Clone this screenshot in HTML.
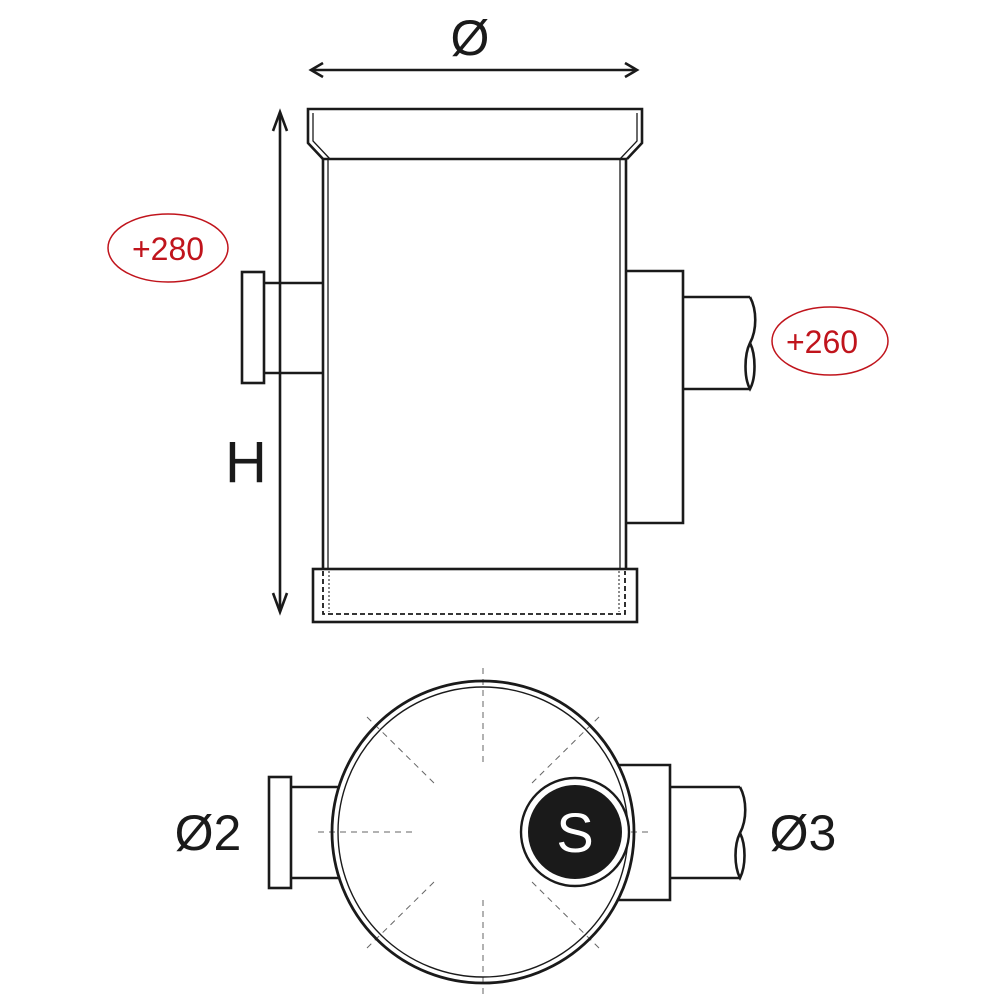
<!DOCTYPE html>
<html><head><style>body{margin:0;background:#fff}svg{display:block}</style></head><body>
<svg width="1000" height="1000" viewBox="0 0 1000 1000" xmlns="http://www.w3.org/2000/svg" fill="none" stroke="#1a1a1a" stroke-width="2.6">
<line x1="311" y1="70" x2="637" y2="70"/>
<polyline points="323,63 311,70 323,77"/>
<polyline points="625,63 637,70 625,77"/>
<text x="470" y="55" font-family="Liberation Sans, sans-serif" font-size="50" fill="#1a1a1a" stroke="none" text-anchor="middle">Ø</text>
<line x1="280" y1="112" x2="280" y2="612"/>
<polyline points="273,131 280,112 287,131"/>
<polyline points="273,593 280,612 287,593"/>
<text x="246" y="482" font-family="Liberation Sans, sans-serif" font-size="58" fill="#1a1a1a" stroke="none" text-anchor="middle">H</text>
<polyline points="323,159 308,143 308,109 642,109 642,143 627,159"/>
<polyline points="313,113 313,141 330,159" stroke-width="1.3"/>
<polyline points="637,113 637,141 620,159" stroke-width="1.3"/>
<line x1="323" y1="159" x2="627" y2="159"/>
<line x1="323" y1="159" x2="323" y2="569"/>
<line x1="328" y1="159" x2="328" y2="569" stroke-width="1.3"/>
<line x1="626" y1="159" x2="626" y2="569"/>
<line x1="620" y1="159" x2="620" y2="569" stroke-width="1.3"/>
<rect x="313" y="569" width="324" height="53"/>
<polyline points="323,571 323,614 625,614 625,571" stroke-dasharray="5,3" stroke-width="1.8"/>
<line x1="329" y1="571" x2="329" y2="612" stroke-dasharray="2,2" stroke-width="1"/>
<line x1="619" y1="571" x2="619" y2="612" stroke-dasharray="2,2" stroke-width="1"/>
<rect x="242" y="272" width="22" height="111"/>
<polyline points="264,283 323,283"/>
<polyline points="264,373 323,373"/>
<polyline points="626,271 683,271 683,523 627,523"/>
<polyline points="683,297 750,297"/>
<polyline points="683,389 750,389"/>
<path d="M750,297 C757,310 757,330 750,343 C744,355 744,378 750,389 C756,378 756,355 750,343"/>
<ellipse cx="168" cy="248" rx="60" ry="34" stroke="#c0141c" stroke-width="1.5"/>
<text x="168" y="260" font-family="Liberation Sans, sans-serif" font-size="32" fill="#c0141c" stroke="none" text-anchor="middle">+280</text>
<ellipse cx="830" cy="341" rx="58" ry="34" stroke="#c0141c" stroke-width="1.5"/>
<text x="822" y="353" font-family="Liberation Sans, sans-serif" font-size="32" fill="#c0141c" stroke="none" text-anchor="middle">+260</text>
<rect x="269" y="777" width="22" height="111"/>
<line x1="291" y1="787" x2="340" y2="787"/>
<line x1="291" y1="878" x2="340" y2="878"/>
<polyline points="618,765 670,765 670,900 618,900"/>
<line x1="670" y1="787" x2="740" y2="787"/>
<line x1="670" y1="878" x2="740" y2="878"/>
<path d="M740,787 C747,800 747,820 740,833 C734,845 734,866 740,878 C746,866 746,845 740,833"/>
<g stroke-dasharray="6,5" stroke-width="1" stroke="#666">
<line x1="483" y1="668" x2="483" y2="765"/>
<line x1="483" y1="900" x2="483" y2="998"/>
<line x1="318" y1="832" x2="415" y2="832"/>
<line x1="620" y1="832" x2="648" y2="832"/>
<line x1="367" y1="717" x2="434" y2="783"/>
<line x1="599" y1="717" x2="532" y2="783"/>
<line x1="367" y1="948" x2="434" y2="882"/>
<line x1="599" y1="948" x2="532" y2="882"/>
</g>
<circle cx="483" cy="832" r="151" stroke-width="2.8"/>
<circle cx="483" cy="832" r="145" stroke-width="1.4"/>
<circle cx="575" cy="832" r="54" fill="#fff" stroke-width="2.4"/>
<circle cx="575" cy="832" r="47" fill="#1a1a1a" stroke="none"/>
<text x="575" y="852" font-family="Liberation Sans, sans-serif" font-size="56" fill="#fff" stroke="none" text-anchor="middle">S</text>
<text x="208" y="850" font-family="Liberation Sans, sans-serif" font-size="50" fill="#1a1a1a" stroke="none" text-anchor="middle">Ø2</text>
<text x="803" y="850" font-family="Liberation Sans, sans-serif" font-size="50" fill="#1a1a1a" stroke="none" text-anchor="middle">Ø3</text>
</svg>
</body></html>
